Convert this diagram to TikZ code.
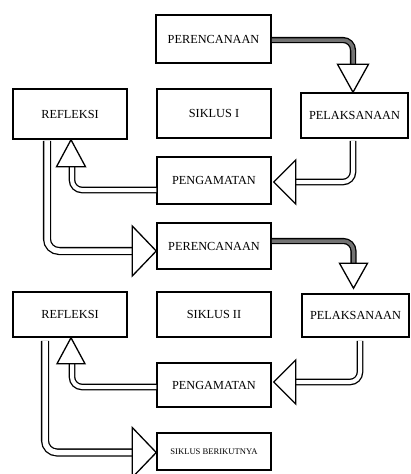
\documentclass[tikz,border=0pt]{standalone}
\usepackage{fontspec}
\setmainfont{Liberation Serif}
\usetikzlibrary{calc}
\begin{document}
\begin{tikzpicture}[x=1pt,y=-1pt,
  box/.style={draw=black,line width=1.5pt,fill=white,inner sep=0pt,
    minimum width=114pt,font=\fontsize{12.3}{14}\selectfont},
  shaftw/.style={draw=black,line width=1.3pt,double=white,double distance=4pt,rounded corners=10pt},
  shaftwb/.style={draw=black,line width=1.3pt,double=white,double distance=5.5pt,rounded corners=12pt},
  shaftg/.style={draw=black,line width=1.3pt,double=black!55,double distance=3.5pt,rounded corners=10pt},
  head/.style={draw=black,line width=1.3pt,fill=white,line join=miter}]
\fill[white] (0,0) rectangle (410,474);
\useasboundingbox (0,0) rectangle (410,474);
% cycle I
\node[box,minimum width=115pt,minimum height=48pt] (P1) at (213.5,39) {PERENCANAAN};
\node[box,minimum height=49pt] (S1) at (214,113.5) {SIKLUS I};
\node[box,minimum height=50pt] (R1) at (70,114) {REFLEKSI};
\node[box,minimum width=107pt,minimum height=45pt] (L1) at (354.5,115.5) {PELAKSANAAN};
\node[box,minimum height=47pt] (G1) at (214,180.5) {PENGAMATAN};
% cycle II
\node[box,minimum height=46pt] (P2) at (214,246) {PERENCANAAN};
\node[box,minimum height=45pt] (R2) at (70,314.5) {REFLEKSI};
\node[box,minimum height=45pt] (S2) at (214,314.5) {SIKLUS II};
\node[box,minimum width=107pt,minimum height=43pt] (L2) at (355.5,315.5) {PELAKSANAAN};
\node[box,minimum height=44pt] (G2) at (214,385) {PENGAMATAN};
\node[box,minimum height=37pt,font=\fontsize{8.6}{10}\selectfont] (SB) at (214,451.5) {SIKLUS BERIKUTNYA};
% arrows cycle I
\draw[shaftg] ($(P1.east)+(0,1)$) -| ($(L1.north)+(-1.5,-28)$);
\draw[head] ($(L1.north)+(-1.5,0)$) -- ++(-15.5,-28) -- ++(31,0) -- cycle;
\draw[shaftw] ($(L1.south)+(-1.5,2)$) |- ($(G1.east)+(24,1.5)$);
\draw[head] ($(G1.east)+(2,1.5)$) -- ++(22,-22) -- ++(0,44) -- cycle;
\draw[shaftw] ($(G1.west)+(0,9.5)$) -| ($(R1.south)+(2,27)$);
\draw[head] ($(R1.south)+(1,0)$) -- ++(-14.5,27) -- ++(29,0) -- cycle;
\draw[shaftwb] ($(R1.south)+(-23,1)$) |- ($(P2.west)+(-24,5)$);
\draw[head] ($(P2.west)+(0,5)$) -- ++(-24,-25) -- ++(0,50) -- cycle;
% arrows cycle II
\draw[shaftg] ($(P2.east)+(0,-5)$) -| ($(L2.north)+(-2,-30)$);
\draw[head] ($(L2.north)+(-2,-5)$) -- ++(-14,-25) -- ++(28,0) -- cycle;
\draw[shaftw] ($(L2.south)+(4.5,3)$) |- ($(G2.east)+(24,-3)$);
\draw[head] ($(G2.east)+(2,-3)$) -- ++(22,-22) -- ++(0,44) -- cycle;
\draw[shaftw] ($(G2.west)+(0,2)$) -| ($(R2.south)+(2,26)$);
\draw[head] ($(R2.south)+(1,0)$) -- ++(-14,26) -- ++(28,0) -- cycle;
\draw[shaftwb] ($(R2.south)+(-25,3)$) |- ($(SB.west)+(-24,1)$);
\draw[head] ($(SB.west)+(0,1)$) -- ++(-24,-25) -- ++(0,50) -- cycle;
\end{tikzpicture}
\end{document}
